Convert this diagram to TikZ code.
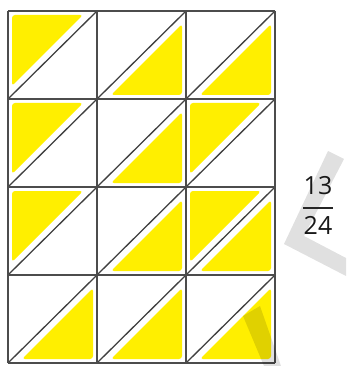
\documentclass[tikz,border=0pt]{standalone}
\usepackage{fontspec}
\setmainfont{Open Sans}
\begin{document}
\begin{tikzpicture}[x=1pt,y=-1pt,
  gridline/.style={draw=black!70,line width=1.8pt},
  diagline/.style={draw=black!75,line width=1.3pt},
  hl/.style={fill=yellowfill,rounded corners=3pt},
  wmark/.style={fill=black,opacity=0.12},
  fracnum/.style={font=\fontsize{25}{25}\selectfont,text=black!90,inner sep=0pt}]
\definecolor{yellowfill}{HTML}{FFEF00}
\useasboundingbox (0,0) rectangle (346,366);
\fill[white] (0,0) rectangle (346,366);
% cell geometry
\def\xa{8}\def\ya{11}\def\cw{89}\def\ch{88}
% upper-left triangle in cell (c,r)
\newcommand{\ulTri}[2]{%
  \pgfmathsetmacro{\xl}{\xa+#1*\cw}\pgfmathsetmacro{\yt}{\ya+#2*\ch}%
  \fill[hl] (\xl+4,\yt+4) -- (\xl+\cw-14,\yt+4) -- (\xl+4,\yt+\ch-13) -- cycle;}
\newcommand{\lrTri}[2]{%
  \pgfmathsetmacro{\xl}{\xa+#1*\cw}\pgfmathsetmacro{\yt}{\ya+#2*\ch}%
  \fill[hl] (\xl+\cw-4,\yt+\ch-4) -- (\xl+\cw-4,\yt+13) -- (\xl+14,\yt+\ch-4) -- cycle;}
% row 1
\ulTri{0}{0}\lrTri{1}{0}\lrTri{2}{0}
% row 2
\ulTri{0}{1}\lrTri{1}{1}\ulTri{2}{1}
% row 3
\ulTri{0}{2}\lrTri{1}{2}\ulTri{2}{2}\lrTri{2}{2}
% row 4
\lrTri{0}{3}\lrTri{1}{3}\lrTri{2}{3}
% diagonals
\foreach \c in {0,1,2}{\foreach \r in {0,1,2,3}{
  \draw[diagline] (\xa+\c*\cw,\ya+\r*\ch+\ch) -- (\xa+\c*\cw+\cw,\ya+\r*\ch);}}
% grid
\foreach \c in {0,1,2,3}{\draw[gridline] (\xa+\c*\cw,\ya) -- (\xa+\c*\cw,\ya+4*\ch);}
\foreach \r in {0,1,2,3,4}{\draw[gridline] (\xa,\ya+\r*\ch) -- (\xa+3*\cw,\ya+\r*\ch);}
% watermark strokes
\fill[wmark] (328,151) -- (344,159) -- (304,236) -- (346,258) -- (346,276) -- (284,244) -- cycle;
\fill[wmark] (243,316) -- (260,306) -- (281,366) -- (264,366) -- cycle;
% fraction
\node[fracnum] (num) at (318,186) {13};
\node[fracnum] (den) at (318,225) {24};
\coordinate (barL) at (303,208);
\coordinate (barR) at (333,208);
\draw[black!85,line width=1.4pt] (barL) -- (barR);
\end{tikzpicture}
\end{document}
